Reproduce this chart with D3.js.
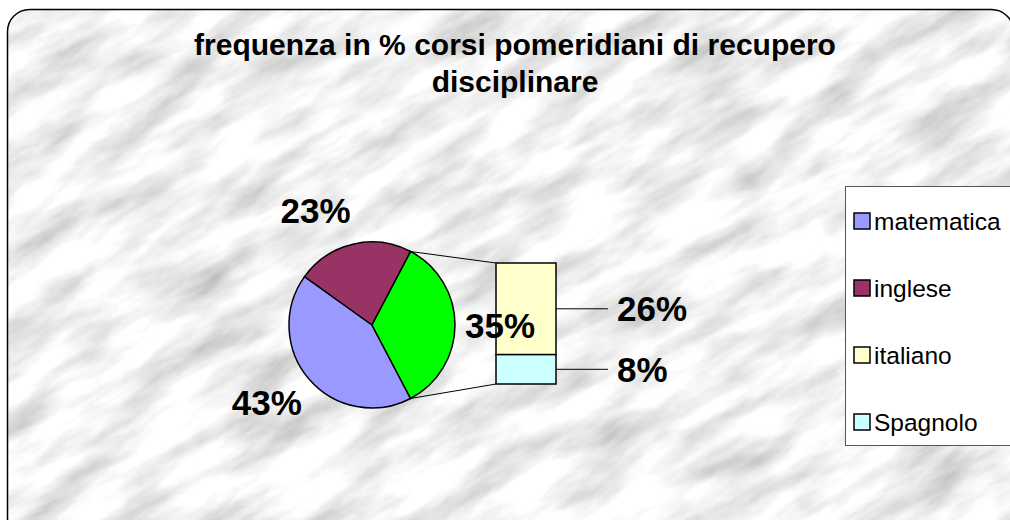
<!DOCTYPE html>
<html lang="it">
<head>
<meta charset="utf-8">
<title>frequenza corsi di recupero</title>
<script src="https://d3js.org/d3.v7.min.js"></script>
<style>
  body { margin: 0; background: #fff; }
  text { font-family: "Liberation Sans", Arial, sans-serif; }
  .lbl { font-size: 35px; font-weight: bold; fill: #000; }
  .leg text { font-size: 24.5px; fill: #000; }
</style>
</head>
<body>
<script>
// data
const categories = ["matematica", "inglese", "italiano", "Spagnolo"];
const values = [42.6, 22.8, 26.2, 8.4];
const colors = ["#9999ff", "#993366", "#ffffcc", "#ccffff"];
const otherColor = "#00ff00";
const titleLines = ["frequenza in % corsi pomeridiani di recupero", "disciplinare"];

const w = 1010, h = 520;
const cx = 372, cy = 325, r = 83;
const barX = 496, barW = 60, barTop = 263, barBottom = 384;

const svg = d3.select("body").append("svg")
  .attr("width", w).attr("height", h);

// marble background
const defs = svg.append("defs");
const f = defs.append("filter").attr("id", "marble")
  .attr("filterUnits", "userSpaceOnUse")
  .attr("x", -400).attr("y", -400).attr("width", 2000).attr("height", 1500);
f.append("feTurbulence").attr("type", "fractalNoise")
  .attr("baseFrequency", "0.011 0.035").attr("numOctaves", 6).attr("seed", 11);
f.append("feColorMatrix").attr("type", "matrix")
  .attr("values", "0.85 0 0 0 0.46  0.85 0 0 0 0.46  0.85 0 0 0 0.46  0 0 0 0 1");
defs.append("clipPath").attr("id", "frame")
  .append("rect").attr("x", 7).attr("y", 9).attr("width", 1006).attr("height", 530).attr("rx", 22);

svg.append("g").attr("clip-path", "url(#frame)")
  .append("g").attr("transform", "rotate(-30 505 260)")
  .append("rect").attr("x", -400).attr("y", -400).attr("width", 2000).attr("height", 1500)
  .attr("filter", "url(#marble)");

svg.append("rect").attr("x", 7.5).attr("y", 9.5).attr("width", 1006).attr("height", 530)
  .attr("rx", 22).attr("fill", "none").attr("stroke", "#000").attr("stroke-width", 1.5);

// title
svg.append("text").attr("text-anchor", "middle")
  .style("font-size", "30px").style("font-weight", "bold")
  .selectAll("tspan").data(titleLines).join("tspan")
  .attr("x", 515).attr("y", (d, i) => 55 + i * 37)
  .text(d => d);

// pie: matematica, inglese, other (italiano + Spagnolo)
const other = values[2] + values[3];
const total = d3.sum(values);
const pieVals = [values[0], values[1], other];
const pieCols = [colors[0], colors[1], otherColor];
const start = Math.PI / 2 + (other / total) * Math.PI;
const arcs = d3.pie().sort(null).startAngle(start).endAngle(start + 2 * Math.PI)(pieVals);
const arc = d3.arc().innerRadius(0).outerRadius(r);

const pg = svg.append("g").attr("transform", `translate(${cx},${cy})`);
pg.selectAll("path").data(arcs).join("path")
  .attr("d", arc)
  .attr("fill", (d, i) => pieCols[i])
  .attr("stroke", "#000").attr("stroke-width", 1.5);

const pct = v => Math.round(v / total * 100) + "%";
const capH = 25;

// connector lines from green slice to bar
const oa = arcs[2];
const pt = a => [cx + r * Math.sin(a), cy - r * Math.cos(a)];
const p1 = pt(oa.startAngle), p2 = pt(oa.endAngle);
svg.append("line").attr("x1", p1[0]).attr("y1", p1[1]).attr("x2", barX).attr("y2", barTop)
  .attr("stroke", "#000").attr("stroke-width", 1);
svg.append("line").attr("x1", p2[0]).attr("y1", p2[1]).attr("x2", barX).attr("y2", barBottom)
  .attr("stroke", "#000").attr("stroke-width", 1);

// stacked bar of "other"
const y = d3.scaleLinear().domain([0, other]).range([barTop, barBottom]);
const barData = [
  { name: categories[2], v0: 0, v1: values[2], col: colors[2] },
  { name: categories[3], v0: values[2], v1: values[2] + values[3], col: colors[3] }
];
const bg = svg.append("g");
bg.selectAll("rect").data(barData).join("rect")
  .attr("x", barX).attr("y", d => y(d.v0))
  .attr("width", barW).attr("height", d => y(d.v1) - y(d.v0))
  .attr("fill", d => d.col).attr("stroke", "#000").attr("stroke-width", 1.5);
bg.selectAll("line").data(barData).join("line")
  .attr("x1", barX + barW).attr("x2", barX + barW + 52)
  .attr("y1", d => y((d.v0 + d.v1) / 2)).attr("y2", d => y((d.v0 + d.v1) / 2))
  .attr("stroke", "#000").attr("stroke-width", 1);
bg.selectAll("text").data(barData).join("text")
  .attr("class", "lbl")
  .attr("x", barX + barW + 61)
  .attr("y", d => y((d.v0 + d.v1) / 2) + capH / 2)
  .text(d => pct(d.v1 - d.v0));

// pie labels on top of everything
svg.append("g").attr("transform", `translate(${cx},${cy})`)
  .selectAll("text").data(arcs).join("text")
  .attr("class", "lbl")
  .each(function(d) {
    const a = (d.startAngle + d.endAngle) / 2;
    const s = Math.sin(a), c = Math.cos(a);
    d3.select(this)
      .attr("x", s * (r + 10))
      .attr("y", -c * (r + 22) + capH * (1 - c) / 2)
      .attr("text-anchor", Math.abs(s) < 0.2 ? "middle" : (s < 0 ? "end" : "start"))
      .text(pct(d.value));
  });

// legend
const leg = svg.append("g").attr("class", "leg");
leg.append("rect").attr("x", 845.5).attr("y", 186.5).attr("width", 200).attr("height", 259)
  .attr("fill", "#fff").attr("stroke", "#555").attr("stroke-width", 1);
const ly = d3.scalePoint().domain(categories).range([221, 422]);
const li = leg.selectAll("g.item").data(categories).join("g").attr("class", "item")
  .attr("transform", d => `translate(854,${ly(d)})`);
li.append("rect").attr("x", 0).attr("y", -8).attr("width", 16).attr("height", 16)
  .attr("fill", (d, i) => colors[i]).attr("stroke", "#000").attr("stroke-width", 1.5);
li.append("text").attr("x", 20).attr("y", 9).text(d => d);
</script>
</body>
</html>
